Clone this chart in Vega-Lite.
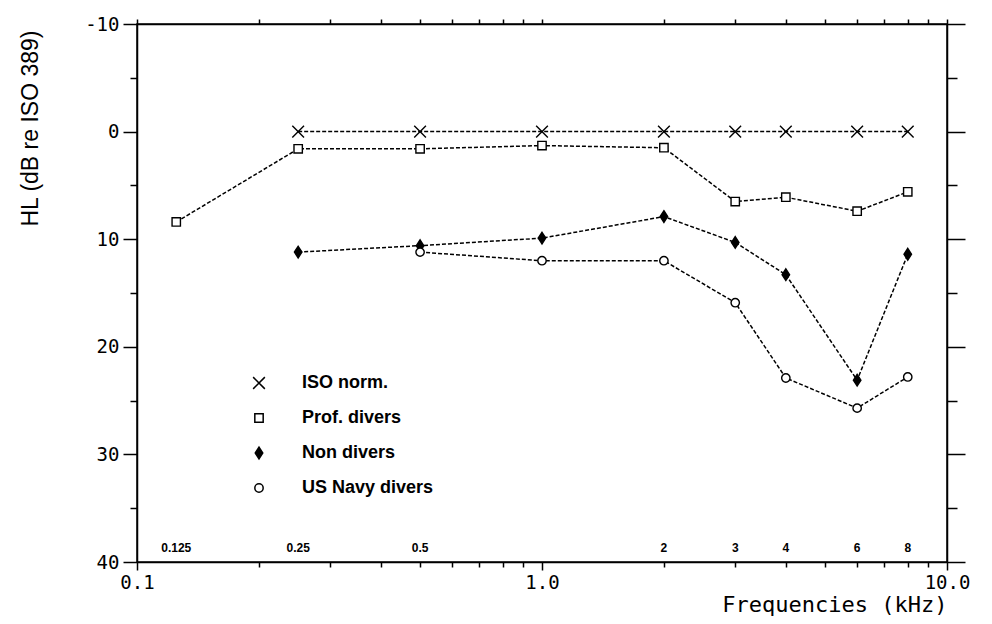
{
  "$schema": "https://vega.github.io/schema/vega-lite/v6.json",
  "width": 810,
  "height": 538,
  "autosize": "none",
  "padding": {"left": 137, "top": 24, "right": 45, "bottom": 62},
  "background": "white",
  "config": {
    "view": {"stroke": "black", "strokeWidth": 1.5},
    "axis": {"domainColor": "black", "tickColor": "black", "labelColor": "black", "titleColor": "black", "grid": false, "domainWidth": 1.5, "tickWidth": 1.5}
  },
  "datasets": {
    "hl": [
      {"series": "ISO norm.", "f": 0.25, "hl": 0},
      {"series": "ISO norm.", "f": 0.5, "hl": 0},
      {"series": "ISO norm.", "f": 1, "hl": 0},
      {"series": "ISO norm.", "f": 2, "hl": 0},
      {"series": "ISO norm.", "f": 3, "hl": 0},
      {"series": "ISO norm.", "f": 4, "hl": 0},
      {"series": "ISO norm.", "f": 6, "hl": 0},
      {"series": "ISO norm.", "f": 8, "hl": 0},
      {"series": "Prof. divers", "f": 0.125, "hl": 8.4},
      {"series": "Prof. divers", "f": 0.25, "hl": 1.6},
      {"series": "Prof. divers", "f": 0.5, "hl": 1.6},
      {"series": "Prof. divers", "f": 1, "hl": 1.3},
      {"series": "Prof. divers", "f": 2, "hl": 1.5},
      {"series": "Prof. divers", "f": 3, "hl": 6.5},
      {"series": "Prof. divers", "f": 4, "hl": 6.1},
      {"series": "Prof. divers", "f": 6, "hl": 7.4},
      {"series": "Prof. divers", "f": 8, "hl": 5.6},
      {"series": "Non divers", "f": 0.25, "hl": 11.2},
      {"series": "Non divers", "f": 0.5, "hl": 10.6},
      {"series": "Non divers", "f": 1, "hl": 9.9},
      {"series": "Non divers", "f": 2, "hl": 7.9},
      {"series": "Non divers", "f": 3, "hl": 10.3},
      {"series": "Non divers", "f": 4, "hl": 13.3},
      {"series": "Non divers", "f": 6, "hl": 23.1},
      {"series": "Non divers", "f": 8, "hl": 11.4},
      {"series": "US Navy divers", "f": 0.5, "hl": 11.2},
      {"series": "US Navy divers", "f": 1, "hl": 12.0},
      {"series": "US Navy divers", "f": 2, "hl": 12.0},
      {"series": "US Navy divers", "f": 3, "hl": 15.9},
      {"series": "US Navy divers", "f": 4, "hl": 22.9},
      {"series": "US Navy divers", "f": 6, "hl": 25.7},
      {"series": "US Navy divers", "f": 8, "hl": 22.8}
    ],
    "freqLabels": [
      {"f": 0.125, "label": "0.125"},
      {"f": 0.25, "label": "0.25"},
      {"f": 0.5, "label": "0.5"},
      {"f": 2, "label": "2"},
      {"f": 3, "label": "3"},
      {"f": 4, "label": "4"},
      {"f": 6, "label": "6"},
      {"f": 8, "label": "8"}
    ]
  },
  "layer": [
    {
      "data": {"name": "hl"},
      "mark": {"type": "line", "color": "black", "strokeWidth": 1.5, "strokeDash": [4, 2]},
      "encoding": {
        "x": {
          "field": "f", "type": "quantitative",
          "scale": {"type": "log", "domain": [0.1, 10], "nice": false},
          "axis": {
            "orient": "bottom",
            "values": [0.1, 0.2, 0.3, 0.4, 0.5, 0.6, 0.7, 0.8, 0.9, 1, 2, 3, 4, 5, 6, 7, 8, 9, 10],
            "labelExpr": "datum.value == 0.1 ? '0.1' : datum.value == 1 ? '1.0' : datum.value == 10 ? '10.0' : ''",
            "tickSize": {"condition": {"test": "datum.value == 0.1 || datum.value == 1 || datum.value == 10", "value": 8}, "value": 5},
            "labelFont": "DejaVu Sans Mono", "labelFontSize": 19, "labelPadding": 3, "labelFlush": false, "labelOverlap": false,
            "title": "Frequencies (kHz)", "titleFont": "DejaVu Sans Mono", "titleFontSize": 22, "titleFontWeight": "normal",
            "titleAnchor": "end", "titlePadding": 2
          }
        },
        "y": {
          "field": "hl", "type": "quantitative",
          "scale": {"domain": [-10, 40], "reverse": true, "nice": false, "zero": false},
          "axis": {
            "orient": "left",
            "values": [-10, -5, 0, 5, 10, 15, 20, 25, 30, 35, 40],
            "labelExpr": "datum.value % 10 == 0 ? '' + datum.value : ''",
            "tickSize": {"condition": {"test": "datum.value % 10 == 0", "value": 14}, "value": 7},
            "labelFont": "DejaVu Sans Mono", "labelFontSize": 19, "labelPadding": 4,
            "title": "HL (dB re ISO 389)", "titleFont": "Liberation Sans", "titleFontSize": 23, "titleFontWeight": "normal",
            "titleX": -107, "titleY": 6, "titleAlign": "right", "titleBaseline": "middle", "titleAngle": -90
          }
        },
        "detail": {"field": "series"}
      }
    },
    {
      "data": {"name": "hl"},
      "mark": {"type": "point", "filled": true, "stroke": "black", "strokeWidth": 1.4, "opacity": 1, "size": 70},
      "encoding": {
        "x": {
          "field": "f", "type": "quantitative",
          "scale": {"type": "log", "domain": [0.1, 10], "nice": false},
          "axis": {
            "orient": "top",
            "values": [0.1, 0.2, 0.3, 0.4, 0.5, 0.6, 0.7, 0.8, 0.9, 1, 2, 3, 4, 5, 6, 7, 8, 9, 10],
            "labels": false, "tickSize": 5, "title": null
          }
        },
        "y": {
          "field": "hl", "type": "quantitative",
          "scale": {"domain": [-10, 40], "reverse": true, "nice": false, "zero": false},
          "axis": {
            "orient": "right",
            "values": [-10, -5, 0, 5, 10, 15, 20, 25, 30, 35, 40],
            "labels": false,
            "tickSize": {"condition": {"test": "datum.value % 10 == 0", "value": 18}, "value": 10},
            "title": null
          }
        },
        "shape": {
          "field": "series", "type": "nominal",
          "scale": {
            "domain": ["ISO norm.", "Prof. divers", "Non divers", "US Navy divers"],
            "range": ["M-1.4,-1.4L1.4,1.4M-1.4,1.4L1.4,-1.4", "square", "M0,-1.4L0.9,0L0,1.4L-0.9,0Z", "circle"]
          },
          "legend": {
            "title": null, "orient": "none", "legendX": 113, "legendY": 350,
            "labelFont": "Liberation Sans", "labelFontSize": 18, "labelFontWeight": "bold",
            "labelOffset": 34, "rowPadding": 17, "symbolSize": 70,
            "encode": {"symbols": {"update": {"stroke": {"value": "black"}, "strokeWidth": {"value": 1.4}}}}
          }
        },
        "fill": {
          "field": "series", "type": "nominal",
          "scale": {
            "domain": ["ISO norm.", "Prof. divers", "Non divers", "US Navy divers"],
            "range": ["white", "white", "black", "white"]
          },
          "legend": {
            "title": null, "orient": "none", "legendX": 113, "legendY": 350,
            "labelFont": "Liberation Sans", "labelFontSize": 18, "labelFontWeight": "bold",
            "labelOffset": 34, "rowPadding": 17, "symbolSize": 70,
            "encode": {"symbols": {"update": {"stroke": {"value": "black"}, "strokeWidth": {"value": 1.4}}}}
          }
        }
      }
    },
    {
      "data": {"name": "freqLabels"},
      "mark": {"type": "text", "font": "Liberation Sans", "fontSize": 12, "fontWeight": "bold", "baseline": "middle", "align": "center", "color": "black"},
      "encoding": {
        "x": {"field": "f", "type": "quantitative", "scale": {"type": "log", "domain": [0.1, 10], "nice": false}, "axis": null},
        "y": {"datum": 38.7, "type": "quantitative", "scale": {"domain": [-10, 40], "reverse": true, "nice": false, "zero": false}, "axis": null},
        "text": {"field": "label"}
      }
    }
  ],
  "resolve": {"axis": {"x": "independent", "y": "independent"}}
}
